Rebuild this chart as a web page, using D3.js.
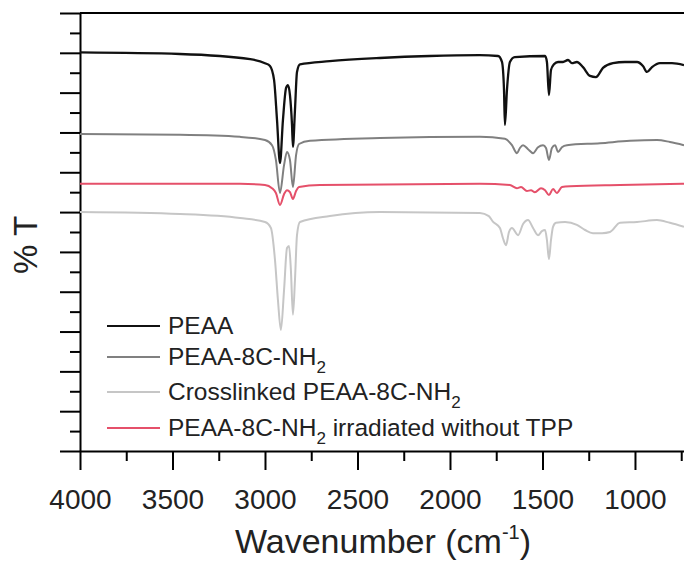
<!DOCTYPE html>
<html>
<head>
<meta charset="utf-8">
<script src="https://cdn.jsdelivr.net/npm/d3@7"></script>
<style>
  body { margin: 0; background: #fff; }
  svg { display: block; font-family: "Liberation Sans", Arial, Helvetica, sans-serif; }
  .axis path, .axis line { stroke: #000; stroke-width: 2px; }
  .spec { fill: none; stroke-linejoin: round; }
</style>
</head>
<body>
<div id="chart"></div>
<script>
// spectra (wavenumber in cm-1, %T in stacked arbitrary units)
var peaaWave = [4000, 3460, 3080, 3000, 2973, 2951, 2935, 2919, 2903, 2886, 2876, 2865, 2854, 2849, 2838, 2827, 2811, 2650, 2380, 2110, 1840, 1740, 1719, 1708, 1703, 1692, 1676, 1650, 1486, 1476, 1465, 1454, 1438, 1416, 1389, 1362, 1341, 1314, 1281, 1243, 1211, 1173, 1119, 1054, 989, 957, 935, 908, 865, 800, 735];
var peaaT = [100.1, 99.7, 98.4, 97.4, 96.7, 93.2, 83.1, 72.3, 83.1, 91.2, 91.9, 89.4, 81.9, 76.4, 85.6, 95.2, 97.1, 97.9, 98.7, 99.2, 99.4, 99.2, 97.7, 90.7, 81.9, 90.7, 97.7, 98.9, 99.2, 97.7, 89.4, 95.7, 97.1, 97.7, 97.7, 98.2, 97.4, 97.7, 96.4, 94.2, 93.9, 96.2, 97.4, 97.7, 97.7, 96.7, 95.2, 96.4, 97.4, 97.4, 96.9];

var nh2Wave = [4000, 3459, 3135, 3000, 2962, 2941, 2919, 2897, 2881, 2865, 2849, 2832, 2816, 2757, 2378, 1838, 1703, 1665, 1638, 1622, 1605, 1578, 1551, 1524, 1497, 1481, 1465, 1449, 1432, 1416, 1395, 1368, 1189, 1027, 881, 811, 735];
var nh2T = [79.6, 79.4, 78.9, 78.1, 76.8, 73.1, 64.8, 71.8, 75.1, 73.1, 66.3, 74.3, 77.1, 77.9, 78.6, 78.9, 78.4, 76.8, 74.8, 76.1, 76.8, 75.8, 74.8, 76.3, 76.8, 76.1, 73.1, 76.1, 76.8, 75.1, 76.3, 76.8, 77.3, 77.9, 78.1, 77.6, 76.8];

var crossWave = [4000, 3459, 3135, 3000, 2968, 2946, 2930, 2914, 2897, 2881, 2870, 2860, 2849, 2838, 2827, 2811, 2649, 2378, 1838, 1790, 1768, 1730, 1714, 1697, 1681, 1665, 1632, 1605, 1578, 1551, 1524, 1503, 1486, 1476, 1465, 1454, 1443, 1427, 1378, 1314, 1270, 1227, 1178, 1135, 1081, 989, 881, 811, 735];
var crossT = [60.0, 59.5, 58.5, 57.5, 56.0, 48.0, 37.9, 30.4, 40.4, 51.0, 51.5, 45.5, 34.2, 42.9, 54.2, 57.5, 59.0, 60.0, 59.8, 59.0, 57.6, 56.0, 53.5, 51.7, 55.0, 56.0, 54.2, 57.0, 58.0, 56.0, 54.2, 55.2, 55.5, 53.0, 48.2, 53.0, 56.3, 57.3, 57.5, 56.8, 55.5, 54.7, 54.7, 55.0, 57.3, 57.5, 58.0, 57.3, 56.3];

var irrWave = [4000, 3135, 3000, 2962, 2941, 2919, 2897, 2881, 2865, 2849, 2832, 2816, 2703, 1838, 1676, 1638, 1616, 1584, 1562, 1541, 1508, 1486, 1465, 1443, 1422, 1395, 1351, 1081, 735];
var irrT = [67.1, 67.1, 66.8, 66.0, 64.8, 61.8, 64.5, 65.5, 65.0, 63.3, 65.3, 66.3, 66.8, 67.1, 66.8, 66.0, 66.3, 65.3, 65.5, 65.0, 66.0, 65.5, 64.3, 65.8, 64.8, 66.3, 66.5, 66.8, 67.1];

var seriesNames = ["PEAA", "PEAA-8C-NH|2|", "Crosslinked PEAA-8C-NH|2|", "PEAA-8C-NH|2| irradiated without TPP"];
var seriesColors = ["#111111", "#808080", "#c6c6c6", "#e5506a"];
var xTicks = [4000, 3500, 3000, 2500, 2000, 1500, 1000];

var W = 684, H = 563;
var margin = { top: 13, right: 0, bottom: 112, left: 80 };
var width = W - margin.left - margin.right,
  height = H - margin.top - margin.bottom;

var svg = d3.select("#chart").append("svg").attr("width", W).attr("height", H);
var g = svg.append("g").attr("transform", "translate(" + margin.left + "," + margin.top + ")");

var x = d3.scaleLinear().domain([4000, 735]).range([0, width]);
var y = d3.scaleLinear().domain([0, 110]).range([height, 0]);

// top frame
g.append("line").attr("x1", 0).attr("x2", width).attr("y1", 0).attr("y2", 0)
  .attr("stroke", "#000").attr("stroke-width", 2);

// minor ticks
var xMinor = d3.range(3750, 735, -500);
g.append("g").attr("class", "axis").attr("transform", "translate(0," + height + ")")
  .call(d3.axisBottom(x).tickValues(xMinor).tickSize(10).tickFormat(""))
  .select(".domain").remove();
g.append("g").attr("class", "axis")
  .call(d3.axisLeft(y).tickValues(d3.range(5, 110, 10)).tickSize(10).tickFormat(""))
  .select(".domain").remove();

// major axes
var xAxis = g.append("g").attr("class", "axis").attr("transform", "translate(0," + height + ")")
  .call(d3.axisBottom(x).tickValues(xTicks).tickSizeInner(19).tickSizeOuter(0).tickPadding(19).tickFormat(d3.format("d")));
xAxis.selectAll("text").attr("font-size", 28).attr("fill", "#222").attr("font-family", null);

g.append("g").attr("class", "axis")
  .call(d3.axisLeft(y).tickValues(d3.range(0, 111, 10)).tickSizeInner(20).tickSizeOuter(0).tickFormat(""));

// spectra
var line = d3.line()
  .x(function (d) { return x(d[0]); })
  .y(function (d) { return y(d[1]); })
  .curve(d3.curveMonotoneX);

var spectra = [
  { wave: crossWave, t: crossT, color: seriesColors[2], w: 2 },
  { wave: irrWave, t: irrT, color: seriesColors[3], w: 2 },
  { wave: nh2Wave, t: nh2T, color: seriesColors[1], w: 2 },
  { wave: peaaWave, t: peaaT, color: seriesColors[0], w: 2.3 }
];
spectra.forEach(function (s) {
  g.append("path").attr("class", "spec")
    .attr("d", line(d3.zip(s.wave, s.t)))
    .attr("stroke", s.color)
    .attr("stroke-width", s.w);
});

// legend
var legendRows = [0, 31, 66, 102];
var legend = svg.append("g").attr("transform", "translate(107,326)");
seriesNames.forEach(function (name, i) {
  var row = legend.append("g").attr("transform", "translate(0," + legendRows[i] + ")");
  row.append("line").attr("x1", 0).attr("x2", 53).attr("y1", 0).attr("y2", 0)
    .attr("stroke", seriesColors[i]).attr("stroke-width", 2);
  var txt = row.append("text").attr("x", 61).attr("y", 8).attr("font-size", 24.5).attr("fill", "#222");
  name.split("|").forEach(function (part, j) {
    if (!part) return;
    if (j % 2 === 1) {
      txt.append("tspan").attr("font-size", 17).attr("dy", 8).text(part);
    } else {
      txt.append("tspan").attr("dy", j > 0 ? -8 : 0).text(part);
    }
  });
});

// axis titles
var xt = svg.append("text").attr("x", margin.left + width / 2 + 1).attr("y", 553)
  .attr("text-anchor", "middle").attr("font-size", 34).attr("fill", "#222");
xt.append("tspan").text("Wavenumber (cm");
xt.append("tspan").attr("font-size", 20).attr("dy", -14).text("-1");
xt.append("tspan").attr("dy", 14).text(")");

svg.append("text").attr("transform", "translate(37,245) rotate(-90)")
  .attr("text-anchor", "middle").attr("font-size", 33).attr("fill", "#222").text("% T");
</script>
</body>
</html>
